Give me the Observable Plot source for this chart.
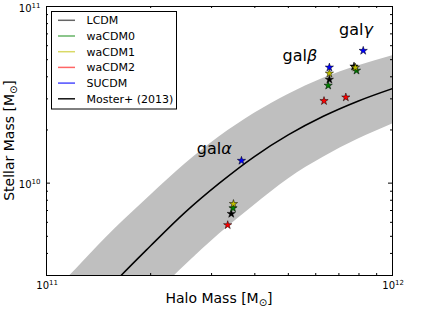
<!DOCTYPE html>
<html><head><meta charset="utf-8">
<script src="https://cdn.jsdelivr.net/npm/d3@7"></script>
<script src="https://cdn.jsdelivr.net/npm/@observablehq/plot@0.6"></script>
<style>body{margin:0;background:#fff;} svg{font-family:"DejaVu Sans",sans-serif;}</style>
</head><body><div id="chart"></div>
<script>
// Moster+ (2013) relation and its band
const haloGrid     = [1.00e11, 1.26e11, 1.58e11, 2.00e11, 2.51e11, 3.16e11, 3.98e11, 5.01e11, 6.31e11, 7.94e11, 1.00e12];
const mosterMstar  = [1.01e9, 1.69e9, 2.77e9, 4.42e9, 6.81e9, 1.00e10, 1.41e10, 1.88e10, 2.39e10, 2.91e10, 3.43e10];
const bandUpper    = [2.17e9, 3.50e9, 5.53e9, 8.55e9, 1.28e10, 1.83e10, 2.48e10, 3.19e10, 3.93e10, 4.61e10, 5.27e10];
const bandLower    = [4.85e8, 8.18e8, 1.36e9, 2.19e9, 3.41e9, 5.15e9, 7.48e9, 1.06e10, 1.40e10, 1.77e10, 2.16e10];

// simulated galaxies, one value per model (LCDM, waCDM0, waCDM1, waCDM2, SUCDM)
const models      = ["LCDM", "waCDM0", "waCDM1", "waCDM2", "SUCDM"];
const modelColors = ["#000000", "#008000", "#bfbf00", "#ff0000", "#0000ff"];
const legendColors = ["#666666", "#66b366", "#d9d966", "#ff6666", "#4d4dff"];
const galAlphaHalo    = [3.42e11, 3.46e11, 3.47e11, 3.34e11, 3.66e11];
const galAlphaStellar = [6.71e9, 7.22e9, 7.63e9, 5.79e9, 1.34e10];
const galBetaHalo     = [6.57e11, 6.52e11, 6.57e11, 6.34e11, 6.57e11];
const galBetaStellar  = [3.86e10, 3.57e10, 4.18e10, 2.92e10, 4.52e10];
const galGammaHalo    = [7.74e11, 7.87e11, 7.81e11, 7.33e11, 8.23e11];
const galGammaStellar = [4.58e10, 4.34e10, 4.51e10, 3.06e10, 5.62e10];

// galaxy labels
const labelGreek   = ["α", "β", "γ"];
const labelHalo    = [2.72e11, 4.81e11, 7.01e11];
const labelStellar = [1.47e10, 4.93e10, 6.92e10];

// ticks
const xMajor = [1e11, 1e12];
const xMinor = [2e11, 3e11, 4e11, 5e11, 6e11, 7e11, 8e11, 9e11];
const yMajor = [1e10, 1e11];
const yMinor = [4e9, 5e9, 6e9, 7e9, 8e9, 9e9, 2e10, 3e10, 4e10, 5e10, 6e10, 7e10, 8e10, 9e10];
const xExp = ["11", "12"];
const yExp = ["10", "11"];

const W = 436, H = 309, mL = 46, mR = 44, mT = 6, mB = 34;
const fw = W - mL - mR, fh = H - mT - mB;

const band = haloGrid.map((h, i) => ({h, lo: bandLower[i], hi: bandUpper[i], m: mosterMstar[i]}));
const galH = [galAlphaHalo, galBetaHalo, galGammaHalo];
const galS = [galAlphaStellar, galBetaStellar, galGammaStellar];
const stars = [];
models.forEach((m, j) => galH.forEach((hs, g) => stars.push({model: m, halo: hs[j], stellar: galS[g][j]})));
const labels = labelGreek.map((t, i) => ({t, x: labelHalo[i], y: labelStellar[i]}));

const plot = Plot.plot({
  width: W, height: H, marginLeft: mL, marginRight: mR, marginTop: mT, marginBottom: mB,
  x: {type: "log", domain: [1e11, 1e12], axis: null},
  y: {type: "log", domain: [3e9, 1e11], axis: null},
  color: {domain: models, range: modelColors},
  style: {fontFamily: "DejaVu Sans", background: "white"},
  marks: [
    Plot.areaY(band, {x: "h", y1: "lo", y2: "hi", fill: "#bfbfbf", curve: "monotone-x", clip: true}),
    Plot.line(band, {x: "h", y: "m", stroke: "black", strokeWidth: 1.5, curve: "monotone-x", clip: true}),
    Plot.dot(stars, {x: "halo", y: "stellar", symbol: "star", r: 2.6, fill: "model", stroke: "black", strokeWidth: 0.5}),
    Plot.text(labels, {x: "x", y: "y", text: () => "gal", fontSize: 16, textAnchor: "start", lineAnchor: "bottom", fill: "black"}),
    Plot.text(labels, {x: "x", y: "y", text: "t", fontSize: 16, fontStyle: "italic", dx: 24.5, textAnchor: "start", lineAnchor: "bottom", fill: "black"}),
    // inward ticks
    Plot.ruleX(xMinor, {x: d => d, insetTop: fh - 2, stroke: "black"}),
    Plot.ruleX(xMinor, {x: d => d, insetBottom: fh - 2, stroke: "black"}),
    Plot.ruleY(yMinor, {y: d => d, insetRight: fw - 2, stroke: "black"}),
    Plot.ruleY(yMinor, {y: d => d, insetLeft: fw - 2, stroke: "black"}),
    Plot.ruleY(yMajor, {y: d => d, insetRight: fw - 4, stroke: "black"}),
    Plot.ruleY(yMajor, {y: d => d, insetLeft: fw - 4, stroke: "black"}),
    // tick labels
    Plot.text(xMajor, {x: d => d, frameAnchor: "bottom", text: () => "10", textAnchor: "end", lineAnchor: "bottom", dx: 2.5, dy: 13, fontSize: 10, fill: "black"}),
    Plot.text(xMajor, {x: d => d, frameAnchor: "bottom", text: (d, i) => xExp[i], textAnchor: "start", lineAnchor: "bottom", dx: 2.5, dy: 9, fontSize: 7, fill: "black"}),
    Plot.text(yMajor, {y: d => d, frameAnchor: "left", text: () => "10", textAnchor: "end", lineAnchor: "bottom", dx: -15, dy: 5, fontSize: 10, fill: "black"}),
    Plot.text(yMajor, {y: d => d, frameAnchor: "left", text: (d, i) => yExp[i], textAnchor: "end", lineAnchor: "bottom", dx: -6, dy: 1, fontSize: 7, fill: "black"}),
    Plot.frame({stroke: "black"})
  ]
});
document.getElementById("chart").appendChild(plot);

const svg = d3.select(plot);
// legend
const lg = svg.append("g").attr("font-family", "DejaVu Sans").attr("font-size", 11).attr("text-anchor", "start");
lg.append("rect").attr("x", 51.5).attr("y", 11.5).attr("width", 125).attr("height", 97.5)
  .attr("fill", "white").attr("stroke", "black").attr("stroke-width", 1);
const legendNames = [...models, "Moster+ (2013)"];
const legendLine = [...legendColors, "#111111"];
legendNames.forEach((n, i) => {
  const cy = 20.3 + i * 15.7;
  lg.append("line").attr("x1", 58).attr("x2", 75).attr("y1", cy).attr("y2", cy)
    .attr("stroke", legendLine[i]).attr("stroke-width", 1.5);
  lg.append("text").attr("x", 86.5).attr("y", cy + 4).attr("text-anchor", "start").attr("fill", "black").text(n);
});
// axis titles
const xt = svg.append("text").attr("x", mL + fw / 2).attr("y", 303).attr("text-anchor", "middle")
  .attr("font-size", 14).attr("font-family", "DejaVu Sans").attr("fill", "black");
xt.append("tspan").text("Halo Mass [M");
xt.append("tspan").attr("font-size", 10).attr("dy", 3).text("⊙");
xt.append("tspan").attr("dy", -3).text("]");
const yt = svg.append("text").attr("transform", `translate(14,${mT + fh / 2}) rotate(-90)`).attr("text-anchor", "middle")
  .attr("font-size", 14).attr("font-family", "DejaVu Sans").attr("fill", "black");
yt.append("tspan").text("Stellar Mass [M");
yt.append("tspan").attr("font-size", 10).attr("dy", 3).text("⊙");
yt.append("tspan").attr("dy", -3).text("]");
</script>
</body></html>
